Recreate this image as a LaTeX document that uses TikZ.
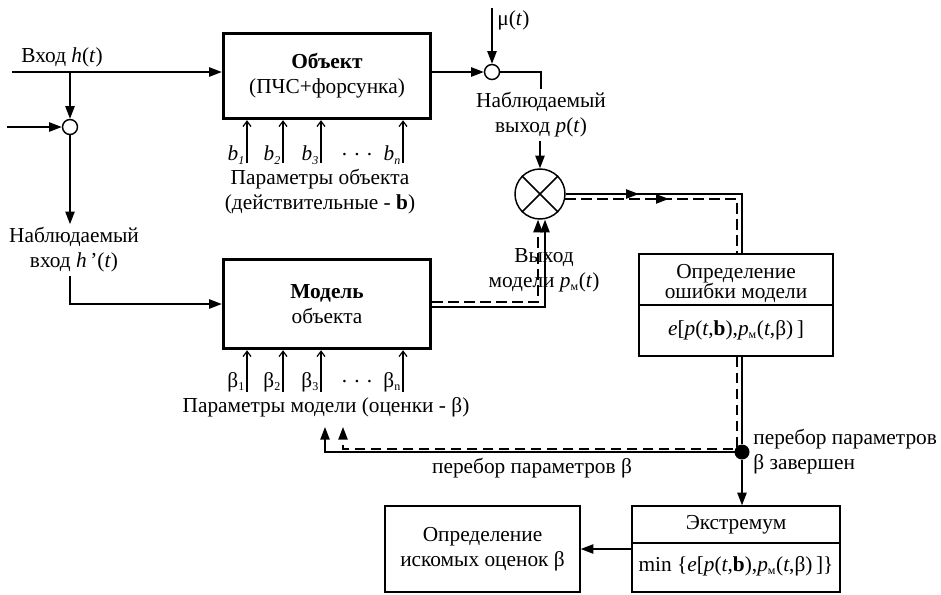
\documentclass[tikz,border=0pt]{standalone}
\usepackage{fontspec}
\setmainfont{Liberation Serif}
\usetikzlibrary{positioning, arrows.meta, calc, decorations.markings}
\newcommand{\ital}[1]{\textit{#1}}
\newcommand{\lowidx}[1]{\textsubscript{\fontsize{9}{9}\selectfont #1}}

\begin{document}
\begin{tikzpicture}[x=0.75pt, y=-0.75pt, line width=1.1pt, >={Triangle[length=9.5pt, width=7pt]},
    font=\fontsize{16}{18.75}\selectfont,
    blk/.style={draw, line width=2.6pt, minimum width=155.25pt, align=center},
    sumnode/.style={draw, circle, fill=white, minimum size=11.25pt, inner sep=0pt},
    lbl/.style={align=center, inner sep=2pt},
    parr/.style={-{Straight Barb[length=4pt, width=6pt]}, line width=0.9pt},
    fbdash/.style={dash pattern=on 8pt off 4pt},
    midarr/.style={postaction={decorate}, decoration={markings,
        mark=at position #1 with {\arrow{Triangle[length=9.5pt, width=7pt]}}}}]

\useasboundingbox (0,0) rectangle (941,594);

% Объект и модель
\node[blk, minimum height=63.75pt] (obj) at (327,76) {\textbf{Объект}\\(ПЧС+форсунка)};
\node[blk, minimum height=66.75pt] (mdl) at (327,304) {\textbf{Модель}\\объекта};

% Сумматоры
\node[sumnode] (sumIn) at (70,127) {};
\node[sumnode] (sumOut) at (492,72) {};
\node[draw, circle, minimum size=37.5pt, inner sep=0pt] (cmp) at (540,194) {};
\draw (cmp.north west) -- (cmp.south east) (cmp.north east) -- (cmp.south west);

% Блоки справа и снизу
\node[draw, minimum width=145.5pt, minimum height=76.5pt] (err) at (736,305) {};
\draw (err.west) -- (err.east);
\node[lbl, font=\fontsize{16}{15}\selectfont] (errT) at (736,283) {Определение\\ошибки модели};
\node[lbl] (errF) at (736,330) {\ital{e}[\ital{p}(\ital{t},\textbf{b}),\ital{p}\lowidx{м}(\ital{t},β)\,]};

\node[draw, minimum width=156pt, minimum height=64.5pt] (ext) at (736,549) {};
\coordinate (extDiv) at (736,543);
\draw (ext.west |- extDiv) -- (ext.east |- extDiv);
\node[lbl] (extT) at (736,525) {Экстремум};
\node[lbl] (extF) at (736,566) {min \{\ital{e}[\ital{p}(\ital{t},\textbf{b}),\ital{p}\lowidx{м}(\ital{t},β)\,]\}};

\node[draw, minimum width=146.25pt, minimum height=64.5pt, align=center] (res) at (482.5,549) {Определение\\искомых оценок β};

% Подписи
\node[lbl, anchor=west] (inLbl) at (18,57) {Вход \ital{h}(\ital{t})};
\node[lbl] (obsIn) at (74,250) {Наблюдаемый\\вход \ital{h}\,'(\ital{t})};
\node[lbl] (obsOut) at (541,115) {Наблюдаемый\\выход \ital{p}(\ital{t})};
\node[lbl] (mdlOut) at (544,270) {Выход\\модели \ital{p}\lowidx{м}(\ital{t})};
\node[lbl, anchor=west] (muLbl) at (494,20) {μ(\ital{t})};
\node[lbl] (objPar) at (320,192) {Параметры объекта\\(действительные - \textbf{b})};
\node[lbl] (mdlPar) at (326,407) {Параметры модели (оценки - β)};
\node[lbl] (iterLbl) at (532,468) {перебор параметров β};
\node[lbl, anchor=west, align=left] (doneLbl) at (750,452) {перебор параметров\\β завершен};

% Параметры объекта и модели
\foreach \x/\s [count=\i] in {247/1, 283/2, 321/3, 403/n} {
    \coordinate (bIn\i) at (\x,163);
    \draw[parr] (bIn\i) -- (bIn\i |- obj.south);
    \node[lbl, anchor=east, inner sep=1pt] (b\i) at (\x,155) {\ital{b}\lowidx{\ital{\s}}};
    \coordinate (betaIn\i) at (\x,392);
    \draw[parr] (betaIn\i) -- (betaIn\i |- mdl.south);
    \node[lbl, anchor=east, inner sep=1pt] (beta\i) at (\x,382) {β\lowidx{\s}};
}
\node (bDots) at (357,155) {. . .};
\node (betaDots) at (357,382) {. . .};

% Вход
\coordinate (inStart) at (12,72);
\coordinate (inBr) at (70,72);
\coordinate (noiseIn) at (7,127);
\draw[->] (inStart) -- (inStart -| obj.west);
\draw[->] (inBr) -- (sumIn.north);
\draw[->] (noiseIn) -- (sumIn.west);
\draw[->] (sumIn.south) -- (sumIn |- obsIn.north);
\draw[->] (sumIn |- obsIn.south) |- (mdl.west);

% Выход объекта
\coordinate (muTop) at (492,8);
\draw[->] (muTop) -- (sumOut.north);
\draw[->] (obj.east |- sumOut) -- (sumOut.west);
\draw (sumOut.east) -| (obsOut.north);
\draw[->] (cmp |- obsOut.south) -- (cmp.north);

% Выход модели
\draw[->] ([yshift=-2.25pt]mdl.east) -| ([xshift=3.75pt]cmp.south);
\draw[->, fbdash] ([yshift=1.5pt]mdl.east) -| ([xshift=-1.5pt]cmp.south);

% Ошибка
\draw[midarr=54.75pt] (cmp.east) -| ([xshift=4.5pt]err.north);
\draw[fbdash, midarr=77.6pt] (cmp.-11.5) -| ([xshift=0.75pt]err.north);

% Перебор параметров
\node[circle, fill, minimum size=11.25pt, inner sep=0pt] (dot) at (742,452) {};
\coordinate (fbSolid) at (325,427);
\coordinate (fbDash) at (343,427);
\coordinate (dashCorner) at (737,449);
\draw ([xshift=4.5pt]err.south) -- (dot);
\draw[->] (dot.center) -| (fbSolid);
\draw[->, fbdash] ([xshift=0.75pt]err.south) -- (dashCorner) -| (fbDash);
\draw[->] (dot) -- (dot |- ext.north);
\draw[->] (ext.west) -- (res.east);

\end{tikzpicture}
\end{document}
